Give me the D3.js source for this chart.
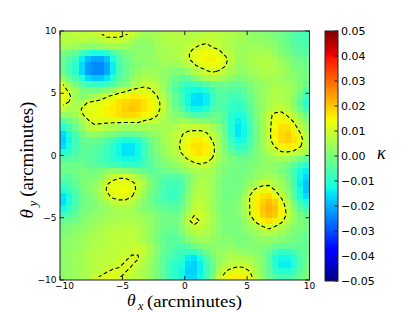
<!DOCTYPE html>
<html><head><meta charset="utf-8">
<script src="https://cdn.jsdelivr.net/npm/d3@7"></script>
<style>html,body{margin:0;padding:0;background:#fff;}svg{display:block;}</style>
</head><body>
<svg id="chart" width="415" height="312"></svg>
<script>
// ---------- data ----------
const thetaTicks = [-10, -5, 0, 5, 10];
const thetaTickLabels = ["\u221210", "\u22125", "0", "5", "10"];
const cbTicks = [-0.05, -0.04, -0.03, -0.02, -0.01, 0, 0.01, 0.02, 0.03, 0.04, 0.05];
const cbTickLabels = ["\u22120.05", "\u22120.04", "\u22120.03", "\u22120.02", "\u22120.01", "0.00", "0.01", "0.02", "0.03", "0.04", "0.05"];
const contourLevels = [0.0105];
const kappaDomain = [-0.05, 0.05];
// convergence kappa in units of 0.001; 40 rows from theta_y = +10 (top) to -10, 40 columns from theta_x = -10 to +10
const kappaMilli = [
[7,7,8,8,8,9,10,12,12,12,11,9,6,4,4,5,6,7,7,7,7,7,7,8,8,7,7,6,5,4,3,2,2,1,0,-1,-3,-5,-6,-7],
[7,7,7,7,6,6,7,9,9,9,8,5,3,3,3,5,6,6,7,7,7,8,9,9,9,8,7,6,5,4,3,3,3,2,1,-1,-3,-5,-6,-7],
[5,5,4,3,2,2,3,4,5,5,4,3,2,2,2,4,5,6,6,7,8,10,11,12,10,9,7,6,4,4,4,4,4,3,2,0,-2,-4,-5,-6],
[0,-1,-3,-7,-10,-12,-12,-10,-6,-3,0,1,2,2,2,4,5,5,6,7,10,12,13,14,14,12,9,7,4,4,5,5,5,5,3,1,-1,-3,-4,-5],
[-2,-4,-8,-14,-19,-21,-21,-18,-12,-6,-2,1,2,2,3,4,5,5,6,7,10,12,14,15,15,14,12,8,4,4,5,6,6,6,5,3,1,-1,-2,-3],
[-3,-6,-10,-16,-22,-24,-24,-21,-14,-7,-3,0,1,2,2,3,4,4,4,5,8,10,12,13,14,13,11,7,3,4,5,6,7,7,6,4,2,0,-1,-2],
[-2,-6,-10,-16,-22,-24,-24,-21,-14,-7,-3,1,3,4,4,4,3,2,1,1,3,6,8,10,11,10,8,5,3,3,4,5,6,6,6,5,3,1,0,-1],
[3,-2,-6,-11,-16,-18,-18,-15,-10,-5,-2,3,5,6,6,5,3,1,-2,-4,-3,0,3,5,6,5,4,2,0,1,2,3,5,5,5,4,3,2,0,-1],
[10,5,-1,-5,-8,-9,-9,-8,-5,-2,0,5,7,9,9,7,4,0,-4,-7,-9,-8,-7,-5,-3,-2,-2,-3,-3,-2,0,2,3,4,5,5,4,3,1,-2],
[13,9,4,0,-1,-1,0,2,4,7,9,11,12,12,11,8,5,0,-5,-9,-12,-13,-13,-11,-7,-4,-4,-5,-5,-4,-1,2,3,5,6,6,5,3,-1,-5],
[13,12,4,1,3,5,7,10,12,14,15,16,16,15,13,11,7,2,-3,-8,-13,-15,-16,-14,-9,-5,-5,-7,-7,-5,-2,1,3,5,6,6,5,2,-3,-8],
[12,10,5,6,11,12,13,14,15,17,18,19,19,17,15,12,9,3,-3,-8,-13,-16,-16,-14,-9,-5,-6,-8,-9,-7,-3,1,3,5,7,7,5,1,-5,-11],
[8,6,6,11,12,13,14,15,16,17,19,20,19,17,15,12,9,4,-1,-5,-10,-13,-13,-11,-7,-4,-6,-9,-10,-8,-4,0,3,6,8,9,7,3,-3,-8],
[3,3,5,10,12,13,14,15,16,17,18,18,17,15,14,11,8,4,1,-1,-4,-6,-6,-5,-3,-2,-5,-10,-12,-10,-5,0,4,9,12,12,10,6,2,-3],
[-4,-2,1,5,10,12,12,12,12,12,12,12,12,10,9,8,6,4,3,4,3,2,1,1,0,-2,-5,-11,-14,-12,-6,0,4,9,13,15,13,10,5,1],
[-10,-7,-2,3,7,9,8,7,6,5,4,4,5,5,5,5,5,5,6,8,8,9,9,8,5,2,-3,-11,-15,-13,-7,-1,4,9,14,17,17,13,8,4],
[-16,-12,-6,-1,2,3,2,1,0,-2,-3,-3,-2,0,2,3,4,6,8,10,12,12,12,11,8,4,-2,-10,-15,-13,-7,-1,4,9,15,18,19,16,11,6],
[-17,-13,-7,-3,-2,-2,-3,-5,-7,-10,-12,-12,-10,-6,-2,1,4,6,8,11,14,16,16,14,10,5,-1,-8,-13,-11,-6,-1,4,9,14,18,19,17,13,7],
[-16,-12,-7,-4,-3,-4,-5,-7,-10,-13,-15,-15,-13,-8,-3,1,3,5,8,12,15,17,17,16,12,6,0,-6,-10,-9,-5,0,4,8,11,15,16,15,11,7],
[-12,-9,-6,-4,-4,-5,-6,-8,-10,-13,-15,-15,-13,-8,-3,0,3,5,7,11,14,16,17,15,12,6,1,-3,-6,-6,-3,0,3,6,8,10,10,9,7,5],
[-6,-5,-4,-3,-4,-5,-6,-8,-10,-12,-13,-13,-12,-8,-4,-1,1,3,5,8,11,13,14,13,10,5,2,0,-2,-2,-1,0,2,3,4,5,4,2,-1,-3],
[-2,-2,-2,-2,-3,-4,-5,-6,-7,-8,-9,-9,-9,-7,-4,-2,0,1,3,5,7,9,10,9,7,3,1,0,-1,-1,0,1,2,3,2,1,-1,-4,-8,-10],
[-2,-2,-1,0,-1,-1,0,1,2,2,1,0,-2,-3,-4,-3,-2,-1,0,2,4,5,6,6,5,2,0,-1,-1,-1,0,2,3,3,2,0,-3,-8,-12,-14],
[-4,-4,-2,0,0,0,2,5,9,10,10,8,5,2,-1,-3,-4,-5,-5,-4,0,3,5,5,4,2,0,-1,-1,0,1,3,4,5,4,2,-2,-8,-13,-16],
[-7,-6,-3,0,1,2,5,10,12,13,13,12,9,5,1,-3,-5,-7,-7,-5,0,4,6,6,4,1,-1,-1,-1,1,3,6,9,9,6,4,0,-7,-14,-18],
[-11,-9,-5,-1,1,3,6,11,13,14,14,13,9,4,0,-3,-6,-8,-8,-5,1,5,7,6,4,1,-1,-1,0,2,8,12,13,14,10,6,1,-6,-13,-18],
[-15,-12,-6,-2,0,2,5,9,12,13,13,11,7,3,-1,-4,-6,-8,-8,-4,2,6,7,6,4,1,-1,-1,0,5,11,15,17,18,15,9,3,-5,-12,-16],
[-16,-12,-6,-2,0,0,3,5,8,9,9,7,4,1,-1,-4,-5,-6,-6,-3,3,7,8,7,4,1,-1,0,1,6,11,16,19,21,19,13,6,-2,-8,-12],
[-13,-9,-5,-1,0,1,2,3,5,6,6,5,3,1,0,-2,-3,-4,-4,-1,4,8,9,7,4,1,0,0,1,5,11,16,20,22,20,15,8,1,-4,-7],
[-8,-6,-3,0,1,2,3,4,5,5,5,5,4,3,2,0,-1,-2,-2,1,6,10,10,8,5,2,0,0,1,4,11,15,19,21,19,15,9,3,-1,-3],
[-3,-2,-1,1,2,3,4,5,5,6,6,6,5,4,3,1,-1,-1,-1,2,9,13,10,8,5,2,0,0,0,3,7,12,16,17,16,12,7,3,0,-1],
[-1,0,1,2,3,4,5,6,6,7,7,7,6,5,3,1,-1,-2,-2,2,6,9,9,7,5,2,0,0,0,2,4,7,10,12,10,7,4,1,0,-1],
[0,1,2,3,4,5,6,7,7,8,8,8,7,5,3,0,-2,-3,-3,1,4,6,7,6,4,2,0,0,0,1,2,4,6,7,6,4,2,0,-1,-2],
[1,2,3,4,5,6,6,7,8,8,8,8,7,5,3,0,-2,-4,-4,-2,1,3,4,4,3,2,1,1,0,0,1,2,3,3,2,1,0,-1,-2,-3],
[2,2,3,4,5,6,7,7,8,8,8,9,9,8,5,1,-2,-4,-5,-6,-4,-2,0,1,2,2,2,2,1,1,1,1,1,0,-2,-3,-3,-3,-3,-3],
[2,3,4,5,6,7,7,8,8,8,9,10,10,8,5,1,-2,-5,-7,-8,-9,-9,-6,-2,1,3,4,5,4,3,2,1,0,-3,-7,-9,-9,-7,-4,-3],
[2,3,4,5,6,7,8,8,8,9,10,11,11,7,4,0,-3,-6,-8,-10,-14,-15,-12,-6,-1,2,4,6,6,6,5,3,1,-4,-10,-13,-13,-10,-5,-3],
[2,3,4,5,6,7,8,8,9,10,11,11,8,6,3,0,-3,-7,-10,-12,-16,-17,-14,-8,-2,3,6,8,9,9,7,4,1,-4,-10,-14,-14,-11,-5,-2],
[2,3,4,5,6,7,8,10,11,11,11,9,7,5,3,0,-3,-7,-10,-13,-17,-17,-14,-8,-2,5,10,12,13,12,10,5,1,-3,-8,-11,-11,-8,-4,-1],
[2,3,4,5,6,9,11,12,12,11,9,8,7,5,3,0,-3,-7,-10,-13,-16,-16,-13,-7,-1,9,12,15,16,15,12,7,2,-2,-5,-7,-7,-5,-2,0]
];

// ---------- colormap (matplotlib jet) ----------
function seg(pts, t) {
  for (let k = 0; k < pts.length - 1; k++) {
    const [x0, y0] = pts[k], [x1, y1] = pts[k + 1];
    if (t <= x1) return y0 + (y1 - y0) * (t - x0) / (x1 - x0);
  }
  return pts[pts.length - 1][1];
}
function jet(t) {
  t = Math.max(0, Math.min(1, t));
  const r = seg([[0,0],[0.35,0],[0.66,1],[0.89,1],[1,0.5]], t);
  const g = seg([[0,0],[0.125,0],[0.375,1],[0.64,1],[0.91,0],[1,0]], t);
  const b = seg([[0,0.5],[0.11,1],[0.34,1],[0.65,0],[1,0]], t);
  return d3.rgb(r * 255, g * 255, b * 255).toString();
}

(function draw() {
// ---------- layout ----------
const svg = d3.select("#chart");
const pL = 60, pR = 309.5, pT = 31, pB = 280;
const nRows = kappaMilli.length, nCols = kappaMilli[0].length;
const x = d3.scaleLinear().domain([-10, 10]).range([pL, pR]);
const y = d3.scaleLinear().domain([-10, 10]).range([pB, pT]);
const color = d3.scaleSequential(jet).domain(kappaDomain);
const colX = d3.scaleLinear().domain([0, nCols]).range([-10, 10]);
const rowY = d3.scaleLinear().domain([0, nRows]).range([10, -10]);

// ---------- heatmap ----------
const cells = [];
kappaMilli.forEach((row, j) => row.forEach((v, i) => cells.push({i, j, k: v / 1000})));
svg.append("g").attr("shape-rendering", "crispEdges")
  .selectAll("rect").data(cells).join("rect")
  .attr("x", d => x(colX(d.i)))
  .attr("y", d => y(rowY(d.j)))
  .attr("width", d => x(colX(d.i + 1)) - x(colX(d.i)))
  .attr("height", d => y(rowY(d.j + 1)) - y(rowY(d.j)))
  .attr("fill", d => color(d.k));

// ---------- contours ----------
const flat = kappaMilli.flat().map(v => v / 1000);
const contours = d3.contours().size([nCols, nRows]).thresholds(contourLevels)(flat);
const proj = d3.geoTransform({ point(px, py) { this.stream.point(x(colX(px)), y(rowY(py))); } });
const path = d3.geoPath(proj);
const defs = svg.append("defs");
defs.append("clipPath").attr("id", "inner").append("rect")
  .attr("x", x(colX(0.5))).attr("y", y(rowY(0.5)))
  .attr("width", x(colX(nCols - 0.5)) - x(colX(0.5)))
  .attr("height", y(rowY(nRows - 0.5)) - y(rowY(0.5)));
svg.append("g").attr("clip-path", "url(#inner)")
  .selectAll("path").data(contours).join("path")
  .attr("d", path)
  .attr("fill", "none").attr("stroke", "#000")
  .attr("stroke-width", 1.1).attr("stroke-dasharray", "4,2.6");

// ---------- frame and ticks ----------
const axisColor = "#222";
svg.append("rect").attr("x", pL).attr("y", pT)
  .attr("width", pR - pL).attr("height", pB - pT)
  .attr("fill", "none").attr("stroke", axisColor).attr("stroke-width", 1);
const tk = svg.append("g").attr("stroke", axisColor).attr("stroke-width", 1);
thetaTicks.forEach(t => {
  tk.append("line").attr("x1", x(t)).attr("x2", x(t)).attr("y1", pB).attr("y2", pB - 4);
  tk.append("line").attr("x1", x(t)).attr("x2", x(t)).attr("y1", pT).attr("y2", pT + 4);
  tk.append("line").attr("y1", y(t)).attr("y2", y(t)).attr("x1", pL).attr("x2", pL + 4);
  tk.append("line").attr("y1", y(t)).attr("y2", y(t)).attr("x1", pR).attr("x2", pR - 4);
});
const tickFont = "DejaVu Sans";
svg.append("g").selectAll("text").data(thetaTicks).join("text")
  .attr("x", d => x(d)).attr("dx", (d, i) => i === 0 ? 4.5 : 0).attr("y", pB + 9)
  .attr("text-anchor", "middle").attr("font-family", tickFont).attr("font-size", 9)
  .attr("fill", "#000").text((d, i) => thetaTickLabels[i]);
svg.append("g").selectAll("text").data(thetaTicks).join("text")
  .attr("x", pL - 3.5).attr("y", d => y(d) + 3.1)
  .attr("text-anchor", "end").attr("font-family", tickFont).attr("font-size", 9)
  .attr("fill", "#000").text((d, i) => thetaTickLabels[i]);

// ---------- axis labels ----------
const serif = "Liberation Serif, DejaVu Serif, serif";
svg.append("text").attr("x", 127).attr("y", 306).attr("font-family", serif)
  .attr("font-style", "italic").attr("font-size", 17.5).text("\u03b8");
svg.append("text").attr("x", 138).attr("y", 309.5).attr("font-family", serif)
  .attr("font-style", "italic").attr("font-size", 12).text("x");
svg.append("text").attr("x", 147).attr("y", 306.5).attr("font-family", serif)
  .attr("font-size", 17).attr("textLength", 95).attr("lengthAdjust", "spacingAndGlyphs")
  .text("(arcminutes)");
const yl = svg.append("g").attr("transform", "rotate(-90)");
yl.append("text").attr("x", -218.5).attr("y", 32.5).attr("font-family", serif)
  .attr("font-style", "italic").attr("font-size", 19).text("\u03b8");
yl.append("text").attr("x", -206.5).attr("y", 36.5).attr("font-family", serif)
  .attr("font-style", "italic").attr("font-size", 13).text("y");
yl.append("text").attr("x", -196.7).attr("y", 32.5).attr("font-family", serif)
  .attr("font-size", 19).attr("textLength", 95).attr("lengthAdjust", "spacingAndGlyphs")
  .text("(arcminutes)");

// ---------- colorbar ----------
const cbL = 325, cbR = 338, cbT = 31, cbB = 281;
const yc = d3.scaleLinear().domain(kappaDomain).range([cbB, cbT]);
const grad = defs.append("linearGradient").attr("id", "cbgrad")
  .attr("x1", 0).attr("y1", 1).attr("x2", 0).attr("y2", 0);
d3.range(0, 101).forEach(s => {
  const t = s / 100;
  grad.append("stop").attr("offset", t).attr("stop-color", color(kappaDomain[0] + t * (kappaDomain[1] - kappaDomain[0])));
});
svg.append("rect").attr("x", cbL).attr("y", cbT).attr("width", cbR - cbL).attr("height", cbB - cbT)
  .attr("fill", "url(#cbgrad)").attr("stroke", axisColor).attr("stroke-width", 1);
svg.append("g").attr("stroke", axisColor).selectAll("line").data(cbTicks).join("line")
  .attr("x1", cbR - 3.5).attr("x2", cbR).attr("y1", d => yc(d)).attr("y2", d => yc(d));
svg.append("g").selectAll("text").data(cbTicks).join("text")
  .attr("x", 341).attr("y", d => yc(d) + 4)
  .attr("font-family", tickFont).attr("font-size", 11).attr("fill", "#000")
  .text((d, i) => cbTickLabels[i]);
svg.append("text").attr("x", 377).attr("y", 159).attr("font-family", serif)
  .attr("font-style", "italic").attr("font-size", 18).text("\u03ba");
})();
</script>
</body></html>
